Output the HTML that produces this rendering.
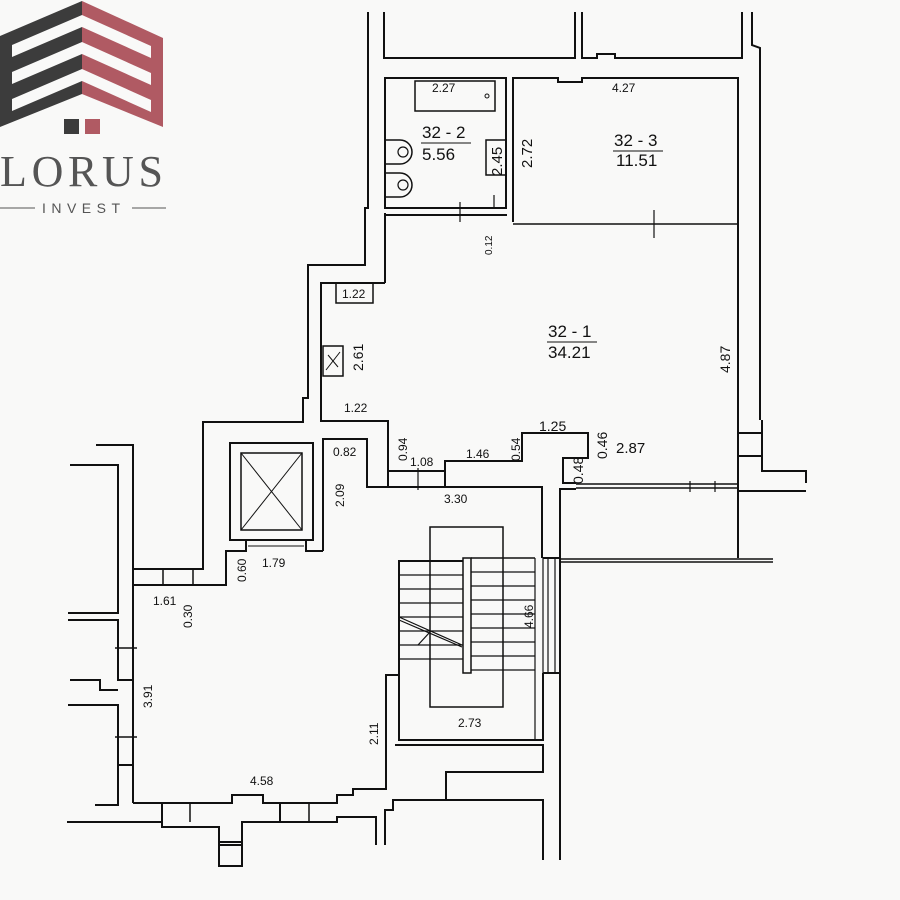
<!DOCTYPE html>
<html><head><meta charset="utf-8"><style>
html,body{margin:0;padding:0;background:#f9f9f8;}
svg{display:block}
text{font-family:"Liberation Sans",sans-serif;fill:#111;}
</style></head><body>
<svg width="900" height="900" viewBox="0 0 900 900" xmlns="http://www.w3.org/2000/svg">
<rect width="900" height="900" fill="#f9f9f8"/>
<!-- logo -->
<polygon points="0,36 82,1 82,94 0,127" fill="#3c3c3c"/>
<polygon points="12,45 82,15 82,27 12,57" fill="#f9f9f8"/>
<polygon points="12,72 82,42 82,54 12,84" fill="#f9f9f8"/>
<polygon points="12,99 82,69 82,81 12,111" fill="#f9f9f8"/>
<polygon points="82,1 163,38 163,127 82,94" fill="#b05a63"/>
<polygon points="82,15 151,46 151,58 82,27" fill="#f9f9f8"/>
<polygon points="82,42 151,73 151,85 82,54" fill="#f9f9f8"/>
<polygon points="82,69 151,100 151,112 82,81" fill="#f9f9f8"/>
<rect x="64" y="119" width="15" height="15" fill="#3c3c3c"/>
<rect x="85" y="119" width="15" height="15" fill="#b05a63"/>
<text x="0" y="186" font-size="44" textLength="163" lengthAdjust="spacing" style="fill:#555;font-family:'Liberation Serif',serif">LORUS</text>
<text x="42" y="213" font-size="14" textLength="78" lengthAdjust="spacing" style="fill:#555">INVEST</text>
<line x1="0" y1="208" x2="35" y2="208" stroke="#555" stroke-width="1"/>
<line x1="132" y1="208" x2="166" y2="208" stroke="#555" stroke-width="1"/>

<g fill="none" stroke="#111" stroke-width="2">
<!-- top walls -->
<polyline points="384,12 384,58 575,58 575,12"/>
<polyline points="582,12 582,58 597,58 597,54 615,54 615,58 742,58 742,12"/>
<polyline points="752,12 752,45 760,48 760,420"/>
<!-- outer left of main room -->
<polyline points="368,12 368,208 365,208 365,265 308,265 308,398 303,398 303,422 203,422 203,569 133,569"/>
<!-- bathroom -->
<rect x="385" y="78" width="121" height="130"/>
<rect x="415" y="81" width="80" height="30" stroke-width="1.5"/>
<circle cx="487" cy="96" r="2" stroke-width="1"/>
<rect x="486" y="140" width="20" height="35" stroke-width="1.5"/>
<path d="M386,140 h14 a11,11 0 0 1 0,24 h-14" stroke-width="1.5"/>
<circle cx="403" cy="152" r="5" stroke-width="1.2"/>
<path d="M386,173 h14 a11,11 0 0 1 0,24 h-14" stroke-width="1.5"/>
<circle cx="403" cy="185" r="5" stroke-width="1.2"/>
<line x1="460" y1="202" x2="460" y2="222" stroke-width="1.2"/>
<line x1="494" y1="195" x2="494" y2="208" stroke-width="1.2"/>
<line x1="654" y1="210" x2="654" y2="238" stroke-width="1.2"/>
<!-- 32-3 -->
<polyline points="513,222 513,78 558,78 558,82 582,82 582,78 738,78 738,222"/>
<line x1="513" y1="224" x2="738" y2="224" stroke-width="1.5"/>
<!-- main room inner -->
<line x1="385" y1="215" x2="507" y2="215"/>
<line x1="385" y1="213" x2="385" y2="283"/>
<polyline points="385,283 321,283 321,421 388,421 388,471 445,471 445,461 522,461 522,433 588,433 588,458 563,458 563,483 576,483"/>
<line x1="576" y1="484" x2="739" y2="484" stroke-width="1.5"/>
<line x1="576" y1="488" x2="739" y2="488" stroke-width="1.5"/>
<line x1="690" y1="481" x2="690" y2="492" stroke-width="1.2"/>
<line x1="715" y1="481" x2="715" y2="492" stroke-width="1.2"/>
<line x1="738" y1="222" x2="738" y2="558"/>
<polyline points="762,420 762,471 806,471 806,483"/>
<line x1="739" y1="433" x2="762" y2="433"/>
<line x1="739" y1="456" x2="762" y2="456"/>
<line x1="739" y1="491" x2="806" y2="491"/>
<rect x="336" y="283" width="37" height="20" stroke-width="1.5"/>
<rect x="323" y="346" width="20" height="30" stroke-width="1.5"/>
<path d="M326,370 l14,-18 M328,355 l10,12" stroke-width="1"/>
<!-- corridor -->
<polyline points="323,551 323,439 367,439 367,487 542,487 542,558"/>
<line x1="388" y1="471" x2="388" y2="487"/>
<line x1="445" y1="471" x2="445" y2="487"/>
<line x1="418" y1="468" x2="418" y2="490" stroke-width="1.2"/>
<polyline points="576,489 560,489 560,860"/>
<line x1="560" y1="559" x2="773" y2="559" stroke-width="1.5"/>
<line x1="560" y1="562" x2="773" y2="562" stroke-width="1.5"/>
<!-- lift -->
<rect x="230" y="443" width="83" height="97"/>
<rect x="241" y="453" width="61" height="77" stroke-width="1.5"/>
<line x1="241" y1="453" x2="302" y2="530" stroke-width="1"/>
<line x1="302" y1="453" x2="241" y2="530" stroke-width="1"/>
<line x1="248" y1="546" x2="304" y2="546" stroke-width="1"/>
<polyline points="246,540 246,551 226,551 226,585 133,585"/>
<polyline points="306,540 306,551 323,551"/>
<line x1="163" y1="569" x2="163" y2="585" stroke-width="1.5"/>
<line x1="193" y1="569" x2="193" y2="585" stroke-width="1.5"/>
<!-- left building -->
<polyline points="96,445 133,445 133,803"/>
<polyline points="70,465 118,465 118,613 68,613"/>
<polyline points="68,620 118,620 118,680 133,680"/>
<polyline points="70,680 100,680 100,690 118,690"/>
<polyline points="68,705 118,705 118,765 133,765"/>
<polyline points="95,805 118,805 118,765"/>
<line x1="115" y1="648" x2="137" y2="648" stroke-width="1.5"/>
<line x1="115" y1="737" x2="137" y2="737" stroke-width="1.5"/>
<!-- bottom walls -->
<polyline points="133,803 232,803 232,795 263,795 263,803 337,803 337,795 353,795 353,789 386,789 386,675 399,675"/>
<polyline points="67,822 162,822 162,827 219,827 219,845 242,845 242,822 337,822 337,817 376,817 376,845"/>
<rect x="219" y="842" width="23" height="24"/>
<line x1="162" y1="803" x2="162" y2="822"/>
<line x1="190" y1="803" x2="190" y2="822" stroke-width="1.5"/>
<line x1="280" y1="803" x2="280" y2="822"/>
<line x1="309" y1="803" x2="309" y2="822" stroke-width="1.5"/>
<polyline points="385,845 385,810 393,810 393,800 543,800 543,860"/>
<polyline points="395,745 543,745 543,772 446,772 446,800"/>
<!-- stairs -->
<polyline points="399,675 399,561 463,561"/>
<polyline points="399,675 399,740 543,740 543,673"/>
<rect x="430" y="527" width="73" height="180" stroke-width="1.5"/>
<rect x="463" y="558" width="8" height="115" stroke-width="1.5"/>
<line x1="471" y1="558" x2="535" y2="558" stroke-width="1.5"/>
<g stroke-width="1.2">
<line x1="399" y1="575" x2="463" y2="575"/><line x1="471" y1="572" x2="535" y2="572"/>
<line x1="399" y1="589" x2="463" y2="589"/><line x1="471" y1="586" x2="535" y2="586"/>
<line x1="399" y1="603" x2="463" y2="603"/><line x1="471" y1="600" x2="535" y2="600"/>
<line x1="399" y1="617" x2="463" y2="617"/><line x1="471" y1="614" x2="535" y2="614"/>
<line x1="399" y1="631" x2="463" y2="631"/><line x1="471" y1="628" x2="535" y2="628"/>
<line x1="399" y1="645" x2="463" y2="645"/><line x1="471" y1="642" x2="535" y2="642"/>
<line x1="399" y1="659" x2="463" y2="659"/><line x1="471" y1="656" x2="535" y2="656"/>
<line x1="471" y1="670" x2="535" y2="670"/>
<line x1="399" y1="617" x2="462" y2="645"/><line x1="399" y1="620" x2="462" y2="647"/>
<line x1="418" y1="645" x2="430" y2="632"/>
<line x1="535" y1="558" x2="535" y2="740"/>
<line x1="543" y1="558" x2="543" y2="673"/>
<line x1="548" y1="558" x2="548" y2="673"/>
<line x1="555" y1="558" x2="555" y2="673"/>
</g>
<line x1="543" y1="673" x2="560" y2="673"/>
<line x1="543" y1="558" x2="560" y2="558"/>
</g>

<!-- labels -->
<g font-size="12">
<text x="432" y="92">2.27</text>
<text x="612" y="92">4.27</text>
<text x="342" y="298">1.22</text>
<text x="344" y="412">1.22</text>
<text x="333" y="456">0.82</text>
<text x="410" y="466">1.08</text>
<text x="466" y="458">1.46</text>
<text x="539" y="431" font-size="14">1.25</text>
<text x="444" y="503">3.30</text>
<text x="262" y="567">1.79</text>
<text x="153" y="605">1.61</text>
<text x="250" y="785">4.58</text>
<text x="458" y="727">2.73</text>
<text x="616" y="453" font-size="15">2.87</text>
</g>
<g font-size="12">
<text transform="translate(363,371) rotate(-90)" font-size="14">2.61</text>
<text transform="translate(407,461) rotate(-90)">0.94</text>
<text transform="translate(520,461) rotate(-90)">0.54</text>
<text transform="translate(607,459) rotate(-90)" font-size="14">0.46</text>
<text transform="translate(583,484) rotate(-90)" font-size="14">0.48</text>
<text transform="translate(344,507) rotate(-90)">2.09</text>
<text transform="translate(246,582) rotate(-90)">0.60</text>
<text transform="translate(192,628) rotate(-90)">0.30</text>
<text transform="translate(152,708) rotate(-90)">3.91</text>
<text transform="translate(378,745) rotate(-90)">2.11</text>
<text transform="translate(533,628) rotate(-90)">4.66</text>
<text transform="translate(730,373) rotate(-90)" font-size="14">4.87</text>
<text transform="translate(532,168) rotate(-90)" font-size="15">2.72</text>
<text transform="translate(502,176) rotate(-90)" font-size="15">2.45</text>
<text transform="translate(492,255) rotate(-90)" font-size="10">0.12</text>
</g>
<g font-size="17">
<text x="422" y="138">32 - 2</text><line x1="421" y1="143" x2="471" y2="143" stroke="#111"/>
<text x="422" y="160">5.56</text>
<text x="614" y="146">32 - 3</text><line x1="613" y1="151" x2="663" y2="151" stroke="#111"/>
<text x="616" y="166">11.51</text>
<text x="548" y="337">32 - 1</text><line x1="547" y1="342" x2="597" y2="342" stroke="#111"/>
<text x="548" y="358">34.21</text>
</g>
</svg>
</body></html>
